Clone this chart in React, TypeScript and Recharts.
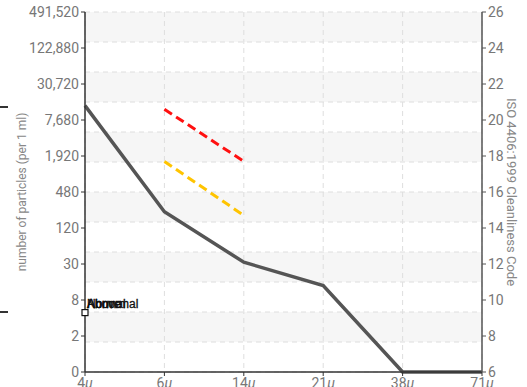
import React from "react"
import {
  ComposedChart,
  Line,
  XAxis,
  YAxis,
  CartesianGrid,
  ReferenceDot,
} from "recharts"

// particle sizes (x categories)
const sizes = ["4", "6", "14", "21", "38", "71"]
// measured ISO 4406 code per size
const sampleCode = [20.8, 14.9, 12.1, 10.8, 6, 6]
// limit lines (only 6µ..14µ)
const redLimit = [null, 20.6, 17.7, null, null, null]
const yellowLimit = [null, 17.7, 14.7, null, null, null]
// axis ticks
const isoTicks = [6, 8, 10, 12, 14, 16, 18, 20, 22, 24, 26]
const particleLabels = [
  "0",
  "2",
  "8",
  "30",
  "120",
  "480",
  "1,920",
  "7,680",
  "30,720",
  "122,880",
  "491,520",
]
const legendNames = ["Above", "Abnormal", "Normal"]
const markerCode = 9.3

const data = sizes.map((s, i) => ({
  size: s,
  code: sampleCode[i],
  red: redLimit[i],
  yellow: yellowLimit[i],
}))

const FONT = "'Roboto', sans-serif"

function SizeTick({ x, y, payload }: any) {
  return (
    <text x={x} y={y} dy={10} textAnchor="middle" fill="#777" fontSize={14} fontFamily={FONT}>
      {payload.value}
      <tspan fontStyle="italic">µ</tspan>
    </text>
  )
}

function LegendMarker({ cx, cy }: any) {
  return (
    <g>
      <rect x={cx - 3} y={cy - 3} width={6} height={6} fill="#fff" stroke="#111" strokeWidth={1.2} />
      {legendNames.map((n) => (
        <text
          key={n}
          x={cx + 2}
          y={cy - 5}
          fontSize={12}
          fill="#111"
          stroke="#111"
          strokeWidth={0.3}
          fontFamily="'Liberation Sans', Arial, sans-serif"
        >
          {n}
        </text>
      ))}
    </g>
  )
}

export default function App() {
  return (
    <div style={{ position: "absolute", left: 0, top: 0, width: 527, height: 387, background: "#fff" }}>
      <style>{"body{margin:0}"}</style>
      <div style={{ position: "absolute", left: 0, top: 106, width: 8, height: 2, background: "#333" }} />
      <div style={{ position: "absolute", left: 0, top: 311, width: 8, height: 2, background: "#333" }} />
      <ComposedChart
        width={527}
        height={387}
        data={data}
        margin={{ top: 12, right: 0, bottom: 0, left: 0 }}
        style={{ fontFamily: FONT }}
      >
        <CartesianGrid
          yAxisId="left"
          stroke="#dedede"
          strokeDasharray="5 4"
          fill="none"
          horizontalFill={["#f6f6f6", "#ffffff"]}
          horizontalCoordinatesGenerator={({ offset }: any) =>
            Array.from({ length: 13 }, (_, i) => offset.top + (offset.height * i) / 12)
          }
        />
        <XAxis
          dataKey="size"
          scale="point"
          padding={{ left: 0, right: 0 }}
          height={15}
          interval={0}
          tick={<SizeTick />}
          tickSize={4}
          axisLine={{ stroke: "#333", strokeWidth: 1.5 }}
          tickLine={{ stroke: "#333" }}
        />
        <YAxis
          yAxisId="left"
          type="number"
          domain={[6, 26]}
          ticks={isoTicks}
          interval={0}
          width={85}
          tickFormatter={(v: number) => particleLabels[isoTicks.indexOf(v)]}
          tick={{ fill: "#777", fontSize: 14, fontFamily: FONT }}
          tickSize={4}
          axisLine={{ stroke: "#333", strokeWidth: 1.5 }}
          tickLine={{ stroke: "#333" }}
          label={{
            value: "number of particles (per 1 ml)",
            angle: -90,
            position: "insideLeft",
            offset: 22,
            style: { textAnchor: "middle", fill: "#888", fontSize: 12, fontFamily: FONT },
          }}
        />
        <YAxis
          yAxisId="right"
          orientation="right"
          type="number"
          domain={[6, 26]}
          ticks={isoTicks}
          interval={0}
          width={45}
          tick={{ fill: "#777", fontSize: 14, fontFamily: FONT }}
          tickSize={4}
          axisLine={{ stroke: "#555", strokeWidth: 1.5 }}
          tickLine={{ stroke: "#555" }}
          label={{
            value: "ISO 4406:1999 Cleanliness Code",
            angle: 90,
            position: "insideRight",
            offset: 15,
            style: { textAnchor: "middle", fill: "#888", fontSize: 13, fontFamily: FONT },
          }}
        />
        <Line
          yAxisId="left"
          dataKey="code"
          stroke="#555"
          strokeWidth={3.5}
          dot={false}
          isAnimationActive={false}
        />
        <Line
          yAxisId="right"
          dataKey="red"
          stroke="#ff1010"
          strokeWidth={3}
          strokeDasharray="9 5"
          dot={false}
          connectNulls={false}
          isAnimationActive={false}
        />
        <Line
          yAxisId="right"
          dataKey="yellow"
          stroke="#ffc400"
          strokeWidth={3}
          strokeDasharray="9 5"
          dot={false}
          connectNulls={false}
          isAnimationActive={false}
        />
        <ReferenceDot yAxisId="left" x="4" y={markerCode} shape={<LegendMarker />} />
      </ComposedChart>
    </div>
  )
}
